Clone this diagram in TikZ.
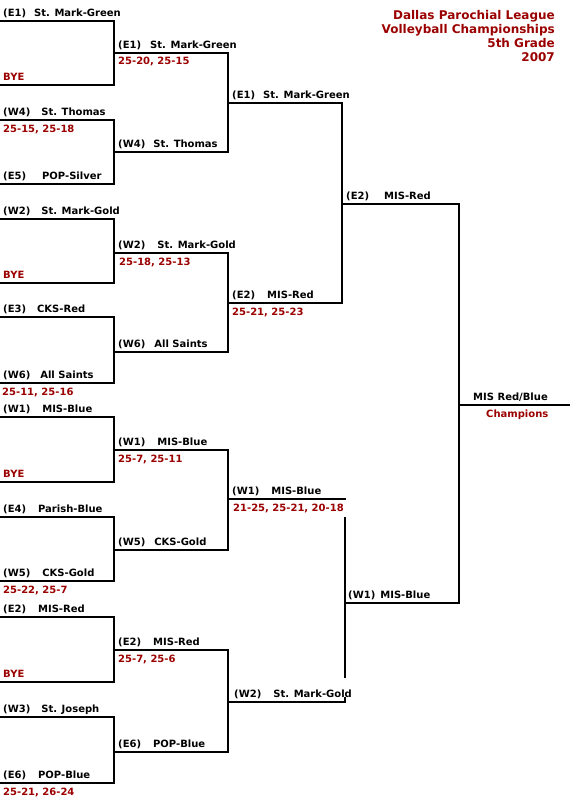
\documentclass[tikz,border=0pt]{standalone}
\usepackage{fontspec}
\setmainfont{DejaVu Sans}
\definecolor{scorered}{RGB}{155,0,0}
% seed, gap, team name
\newcommand{\tm}[3][12pt]{#2\hspace{#1}#3}

\begin{document}
\begin{tikzpicture}[x=1pt, y=-1pt,
  bracket/.style={line width=2pt, black},
  team/.style={anchor=base west, inner sep=0pt, font=\fontsize{10}{12}\selectfont\bfseries},
  score/.style={team, text=scorered},
  heading/.style={anchor=base east, inner sep=0pt, text=scorered, font=\fontsize{12}{14}\selectfont\bfseries}]
  % page = 570 x 800 px, 1pt per px, y downwards
  \useasboundingbox (0,0) rectangle (570,800);

  % round columns
  \def\xa{0}
  \def\xb{114}
  \def\xc{228}
  \def\xd{342}
  \def\xe{459}
  \def\xf{570}

  % 0. Title
  \node[heading] (title1) at (555,20) {Dallas Parochial League};
  \node[heading] (title2) at (555,34) {Volleyball Championships};
  \node[heading] (title3) at (555,48) {5th Grade};
  \node[heading] (title4) at (555,62) {2007};

  % 1. Round 1
  \draw[bracket] (\xa,21) -- (\xb,21) -- (\xb,85) -- (\xa,85);
  \draw[bracket] (\xa,120) -- (\xb,120) -- (\xb,184) -- (\xa,184);
  \draw[bracket] (\xa,219) -- (\xb,219) -- (\xb,283) -- (\xa,283);
  \draw[bracket] (\xa,317) -- (\xb,317) -- (\xb,383) -- (\xa,383);
  \draw[bracket] (\xa,417) -- (\xb,417) -- (\xb,482) -- (\xa,482);
  \draw[bracket] (\xa,517) -- (\xb,517) -- (\xb,581) -- (\xa,581);
  \draw[bracket] (\xa,617) -- (\xb,617) -- (\xb,682) -- (\xa,682);
  \draw[bracket] (\xa,717) -- (\xb,717) -- (\xb,783) -- (\xa,783);

  \node[team]  (r1a) at (3,16.5) {\tm[8pt]{(E1)}{St. Mark-Green}};
  \node[score] (r1b) at (3,80.5) {BYE};
  \node[team]  (r1c) at (3,115.5) {\tm[11pt]{(W4)}{St. Thomas}};
  \node[score] (r1cs) at (3,132) {25-15, 25-18};
  \node[team]  (r1d) at (3,179.5) {\tm[16pt]{(E5)}{POP-Silver}};
  \node[team]  (r1e) at (3,214.5) {\tm[11pt]{(W2)}{St. Mark-Gold}};
  \node[score] (r1f) at (3,278.5) {BYE};
  \node[team]  (r1g) at (3,312.5) {\tm[11pt]{(E3)}{CKS-Red}};
  \node[team]  (r1h) at (3,378.5) {\tm[10pt]{(W6)}{All Saints}};
  \node[score] (r1hs) at (2,395) {25-11, 25-16};
  \node[team]  (r1i) at (3,412.5) {\tm{(W1)}{MIS-Blue}};
  \node[score] (r1j) at (3,477.5) {BYE};
  \node[team]  (r1k) at (3,512.5) {\tm{(E4)}{Parish-Blue}};
  \node[team]  (r1l) at (3,576.5) {\tm{(W5)}{CKS-Gold}};
  \node[score] (r1ls) at (3,593) {25-22, 25-7};
  \node[team]  (r1m) at (3,612.5) {\tm{(E2)}{MIS-Red}};
  \node[score] (r1n) at (3,677.5) {BYE};
  \node[team]  (r1o) at (3,712.5) {\tm[11pt]{(W3)}{St. Joseph}};
  \node[team]  (r1p) at (3,778.5) {\tm{(E6)}{POP-Blue}};
  \node[score] (r1ps) at (3,795) {25-21, 26-24};

  % 2. Round 2
  \draw[bracket] (\xb,53) -- (\xc,53) -- (\xc,152) -- (\xb,152);
  \draw[bracket] (\xb,253) -- (\xc,253) -- (\xc,352) -- (\xb,352);
  \draw[bracket] (\xb,450) -- (\xc,450) -- (\xc,550) -- (\xb,550);
  \draw[bracket] (\xb,650) -- (\xc,650) -- (\xc,752) -- (\xb,752);

  \node[team]  (r2a) at (118,48.5) {\tm[9pt]{(E1)}{St. Mark-Green}};
  \node[score] (r2as) at (118,65) {25-20, 25-15};
  \node[team]  (r2b) at (118,147.5) {\tm[8pt]{(W4)}{St. Thomas}};
  \node[team]  (r2c) at (118,248.5) {\tm{(W2)}{St. Mark-Gold}};
  \node[score] (r2cs) at (119,265) {25-18, 25-13};
  \node[team]  (r2d) at (118,347.5) {\tm[9pt]{(W6)}{All Saints}};
  \node[team]  (r2e) at (118,445.5) {\tm{(W1)}{MIS-Blue}};
  \node[score] (r2es) at (118,462) {25-7, 25-11};
  \node[team]  (r2f) at (118,545.5) {\tm[9pt]{(W5)}{CKS-Gold}};
  \node[team]  (r2g) at (118,645.5) {\tm{(E2)}{MIS-Red}};
  \node[score] (r2gs) at (118,662) {25-7, 25-6};
  \node[team]  (r2h) at (118,747.5) {\tm{(E6)}{POP-Blue}};

  % 3. Round 3 (lower one is broken where the cell texts sit)
  \draw[bracket] (\xc,103) -- (\xd,103) -- (\xd,303) -- (\xc,303);
  \draw[bracket] (\xc,499) -- (346,499);
  \draw[bracket] (345,517) -- (345,678);
  \draw[bracket] (345,697) -- (345,702) -- (\xc,702);

  \node[team]  (r3a) at (232,98.5) {\tm[8pt]{(E1)}{St. Mark-Green}};
  \node[team]  (r3b) at (232,298.5) {\tm{(E2)}{MIS-Red}};
  \node[score] (r3bs) at (232,315) {25-21, 25-23};
  \node[team]  (r3c) at (232,494.5) {\tm{(W1)}{MIS-Blue}};
  \node[score] (r3cs) at (233,511) {21-25, 25-21, 20-18};
  \node[team]  (r3d) at (234,697.5) {\tm{(W2)}{St. Mark-Gold}};

  % 4. Round 4 + final
  \draw[bracket] (\xd,204) -- (\xe,204) -- (\xe,603) -- (345,603);
  \draw[bracket] (\xe,405) -- (\xf,405);

  \node[team]  (r4a) at (346,199.5) {\tm[15pt]{(E2)}{MIS-Red}};
  \node[team]  (r4b) at (348,598.5) {\tm[5pt]{(W1)}{MIS-Blue}};
  \node[team]  (champ) at (473,400) {MIS Red/Blue};
  \node[score] (champs) at (486,417) {Champions};
\end{tikzpicture}
\end{document}
